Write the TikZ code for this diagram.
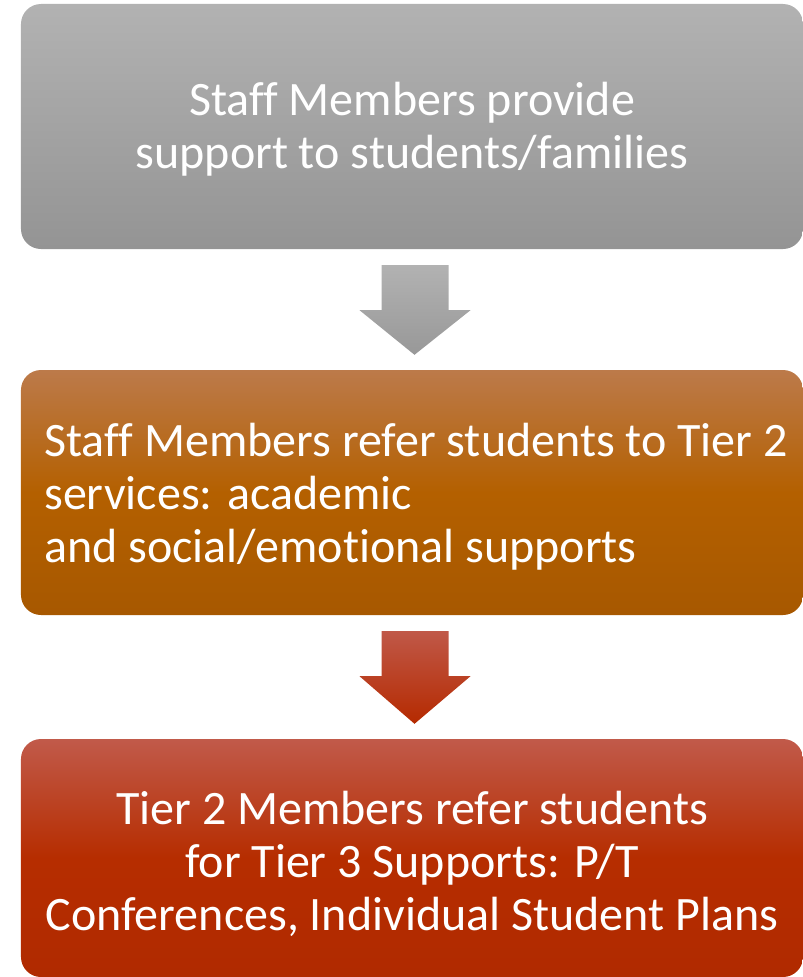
\documentclass[tikz,border=0pt]{standalone}
\usepackage{fontspec}
\setmainfont{Carlito}[Ligatures={NoCommon}]
\usetikzlibrary{calc}

\definecolor{graytop}{RGB}{178,178,178}
\definecolor{graybot}{RGB}{148,148,148}
\definecolor{ambertop}{RGB}{188,122,74}
\definecolor{ambermid}{RGB}{180,96,0}
\definecolor{amberbot}{RGB}{167,88,0}
\definecolor{rusttop}{RGB}{193,90,74}
\definecolor{rustmid}{RGB}{182,45,0}
\definecolor{rustbot}{RGB}{176,42,0}
\definecolor{arrowgraytop}{RGB}{178,178,178}
\definecolor{arrowgraybot}{RGB}{152,152,152}
\definecolor{arrowredtop}{RGB}{192,88,72}
\definecolor{arrowredbot}{RGB}{181,42,0}

\begin{document}
\begin{tikzpicture}[x=1bp, y=-1bp,
    tierbox/.style={rounded corners=20bp, minimum width=782bp, minimum height=245bp, inner sep=0pt},
    tiertext/.style={inner sep=0pt, text=white, font=\fontsize{48bp}{53bp}\selectfont}]
    \useasboundingbox (0,0) rectangle (803,977);

    % Draw boxes
    \node[tierbox, top color=graytop, bottom color=graybot] (staff) at (412,126.5) {};
    \node[tierbox, top color=ambertop, bottom color=amberbot, middle color=ambermid] (tiertwo) at (412,492.5) {};
    \node[tierbox, minimum height=238bp, top color=rusttop, bottom color=rustbot, middle color=rustmid] (tierthree) at (412,858) {};

    % Draw texts
    \node[tiertext, align=center] (stafftext) at ($(staff.center)+(0,3)$)
        {Staff Members provide\\support to students/families};
    \node[tiertext, align=left] (tiertwotext) at ($(tiertwo.center)+(4,4)$)
        {Staff Members refer students to Tier 2\\services: academic\\and social/emotional supports};
    \node[tiertext, align=center] (tierthreetext) at ($(tierthree.center)+(0,6)$)
        {Tier 2 Members refer students\\for Tier 3 Supports: P/T\\Conferences, Individual Student Plans};

    % Draw block arrows between the boxes
    \foreach \from/\to/\topc/\botc in {staff/tiertwo/arrowgraytop/arrowgraybot, tiertwo/tierthree/arrowredtop/arrowredbot}
        \path[top color=\topc, bottom color=\botc]
            ($(\from.south)+(-30.5,16)$) -- ($(\from.south)+(36.5,16)$)
            -- ($(\from.south)+(36.5,61)$) -- ($(\from.south)+(58.5,61)$)
            -- ($(\to.north)+(2.5,-15)$)
            -- ($(\from.south)+(-52.5,61)$) -- ($(\from.south)+(-30.5,61)$) -- cycle;
\end{tikzpicture}
\end{document}
